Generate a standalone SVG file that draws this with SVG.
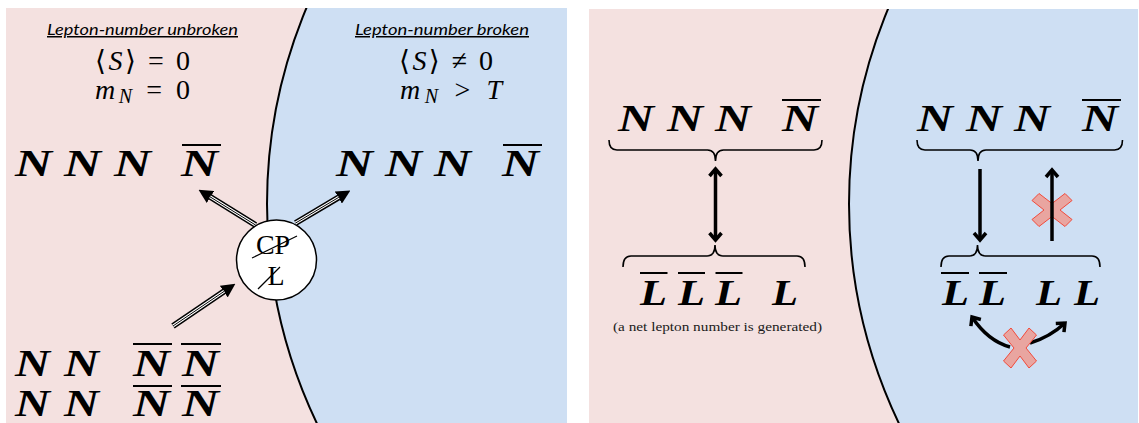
<svg xmlns="http://www.w3.org/2000/svg" width="1139" height="423" viewBox="0 0 1139 423">
<style>
.pink{fill:#F4E1E0}
.blue{fill:#CEDFF3;stroke:#000;stroke-width:2}
.hdr{font-family:Lato,"Open Sans",sans-serif;font-style:italic;font-size:15px;text-decoration:underline;fill:#000}
.math{font-family:"Liberation Serif","DejaVu Serif",serif;font-size:28px;fill:#000}
.it{font-style:italic}
.bN{font-family:"Liberation Serif",serif;font-weight:bold;font-style:italic;font-size:38px;fill:#000}
.bL{font-family:"Liberation Serif",serif;font-weight:bold;font-style:italic;font-size:35px;fill:#000}
.bar{stroke:#000;stroke-width:2}
.brace{fill:none;stroke:#000;stroke-width:1.6}
.rm{font-family:"Liberation Serif",serif;font-size:28px;fill:#000}
.note{font-family:"Liberation Serif",serif;font-size:13.5px;fill:#1a1a1a}
.thin{fill:none;stroke:#000;stroke-width:3.5}
.cross{fill:#E9A5A0;stroke:#F24A3A;stroke-width:1}
</style>
<defs>
<clipPath id="cpL"><rect x="6" y="8" width="561" height="415"/></clipPath>
<clipPath id="cpR"><rect x="589" y="9" width="549" height="414"/></clipPath>
<marker id="tri" markerUnits="userSpaceOnUse" viewBox="0 0 14 14" markerWidth="14" markerHeight="14" refX="0.5" refY="7" orient="auto">
<path d="M0,0 L14,7 L0,14 z" fill="#000"/>
</marker>
<marker id="vee" markerUnits="userSpaceOnUse" viewBox="0 0 20 20" markerWidth="20" markerHeight="20" refX="10" refY="10" orient="auto-start-reverse">
<path d="M3,4 L10,10 L3,16" fill="none" stroke="#000" stroke-width="3.5"/>
</marker>
</defs>

<g id="panel-left">
<rect class="pink" x="6" y="8" width="561" height="415"/>
<circle class="blue" cx="774" cy="204" r="507" clip-path="url(#cpL)"/>
</g>
<g id="panel-right">
<rect class="pink" x="589" y="9" width="549" height="414"/>
<circle class="blue" cx="1356" cy="204" r="507" clip-path="url(#cpR)"/>
</g>

<g id="label-unbroken">
<text class="hdr" x="142.5" y="35" text-anchor="middle" textLength="191" lengthAdjust="spacingAndGlyphs">Lepton-number unbroken</text>
<text class="math" x="95" y="70" textLength="95">⟨<tspan class="it">S</tspan>⟩ = 0</text>
<text class="math" x="95" y="99" textLength="95"><tspan class="it">m</tspan><tspan class="it" font-size="20" dy="4">N</tspan><tspan dy="-4"> = 0</tspan></text>
</g>
<g id="label-broken">
<text class="hdr" x="442" y="35" text-anchor="middle" textLength="174" lengthAdjust="spacingAndGlyphs">Lepton-number broken</text>
<text class="math" x="399" y="70" textLength="94">⟨<tspan class="it">S</tspan>⟩ ≠ 0</text>
<text class="math" x="400" y="99" textLength="102"><tspan class="it">m</tspan><tspan class="it" font-size="20" dy="4">N</tspan><tspan dy="-4"> &gt; </tspan><tspan class="it">T</tspan></text>
</g>

<g id="left-N-row">
<text class="bN" x="15" y="176" textLength="37" lengthAdjust="spacingAndGlyphs">N</text>
<text class="bN" x="64" y="176" textLength="37" lengthAdjust="spacingAndGlyphs">N</text>
<text class="bN" x="114" y="176" textLength="37" lengthAdjust="spacingAndGlyphs">N</text>
<text class="bN" x="181" y="176" textLength="37" lengthAdjust="spacingAndGlyphs">N</text>
<line class="bar" x1="182" y1="145" x2="221" y2="145"/>
</g>
<g id="right-N-row">
<text class="bN" x="336" y="176" textLength="37" lengthAdjust="spacingAndGlyphs">N</text>
<text class="bN" x="385" y="176" textLength="37" lengthAdjust="spacingAndGlyphs">N</text>
<text class="bN" x="434" y="176" textLength="37" lengthAdjust="spacingAndGlyphs">N</text>
<text class="bN" x="502" y="176" textLength="37" lengthAdjust="spacingAndGlyphs">N</text>
<line class="bar" x1="503" y1="145" x2="542" y2="145"/>
</g>
<g id="bottom-N-block">
<text class="bN" x="15" y="376" textLength="35" lengthAdjust="spacingAndGlyphs">N</text>
<text class="bN" x="64" y="376" textLength="35" lengthAdjust="spacingAndGlyphs">N</text>
<text class="bN" x="133" y="376" textLength="37" lengthAdjust="spacingAndGlyphs">N</text>
<text class="bN" x="182" y="376" textLength="37" lengthAdjust="spacingAndGlyphs">N</text>
<line class="bar" x1="133" y1="344" x2="172" y2="344"/>
<line class="bar" x1="181" y1="344" x2="221" y2="344"/>
<text class="bN" x="15" y="416" textLength="35" lengthAdjust="spacingAndGlyphs">N</text>
<text class="bN" x="64" y="416" textLength="35" lengthAdjust="spacingAndGlyphs">N</text>
<text class="bN" x="133" y="416" textLength="37" lengthAdjust="spacingAndGlyphs">N</text>
<text class="bN" x="182" y="416" textLength="37" lengthAdjust="spacingAndGlyphs">N</text>
<line class="bar" x1="133" y1="386" x2="172" y2="386"/>
<line class="bar" x1="181" y1="386" x2="221" y2="386"/>
</g>

<g id="connectors-left">
<line x1="255.5" y1="225" x2="210" y2="196.8" stroke="#000" stroke-width="6" marker-end="url(#tri)"/>
<line x1="255.5" y1="225" x2="210" y2="196.8" stroke="#fff" stroke-width="3"/>
<line x1="255.5" y1="225" x2="210" y2="196.8" stroke="#000" stroke-width="1"/>
<line x1="295.6" y1="223" x2="338.8" y2="197.3" stroke="#000" stroke-width="6" marker-end="url(#tri)"/>
<line x1="295.6" y1="223" x2="338.8" y2="197.3" stroke="#fff" stroke-width="3"/>
<line x1="295.6" y1="223" x2="338.8" y2="197.3" stroke="#000" stroke-width="1"/>
<line x1="173" y1="326" x2="224.2" y2="291.3" stroke="#000" stroke-width="6" marker-end="url(#tri)"/>
<line x1="173" y1="326" x2="224.2" y2="291.3" stroke="#fff" stroke-width="3"/>
<line x1="173" y1="326" x2="224.2" y2="291.3" stroke="#000" stroke-width="1"/>
</g>

<g id="cp-vertex">
<circle cx="276.5" cy="260" r="40" fill="#fff" stroke="#000" stroke-width="1.5"/>
<text class="rm" x="273" y="254" text-anchor="middle">CP</text>
<line x1="252" y1="258" x2="297" y2="236" stroke="#000" stroke-width="1.2"/>
<text class="rm" x="276" y="285" text-anchor="middle">L</text>
<line x1="258" y1="289" x2="280" y2="267" stroke="#000" stroke-width="1.2"/>
</g>

<g id="r-upper-left">
<text class="bN" x="618" y="131" textLength="36" lengthAdjust="spacingAndGlyphs">N</text>
<text class="bN" x="667" y="131" textLength="36" lengthAdjust="spacingAndGlyphs">N</text>
<text class="bN" x="715" y="131" textLength="36" lengthAdjust="spacingAndGlyphs">N</text>
<text class="bN" x="782" y="131" textLength="36" lengthAdjust="spacingAndGlyphs">N</text>
<line class="bar" x1="782" y1="100" x2="821" y2="100"/>
<path class="brace" d="M609,140 Q609,150 617,150 L707.5,150 Q715.5,150 715.5,161 Q715.5,150 723.5,150 L814,150 Q822,150 822,140"/>
</g>
<g id="r-upper-right">
<text class="bN" x="917" y="131" textLength="36" lengthAdjust="spacingAndGlyphs">N</text>
<text class="bN" x="966" y="131" textLength="36" lengthAdjust="spacingAndGlyphs">N</text>
<text class="bN" x="1014" y="131" textLength="36" lengthAdjust="spacingAndGlyphs">N</text>
<text class="bN" x="1082" y="131" textLength="36" lengthAdjust="spacingAndGlyphs">N</text>
<line class="bar" x1="1082" y1="100" x2="1121" y2="100"/>
<path class="brace" d="M917,140 Q917,150 925,150 L970,150 Q978,150 978,161 Q978,150 986,150 L1114.5,150 Q1122.5,150 1122.5,140"/>
</g>
<g id="r-lower-left">
<path class="brace" d="M623,267 Q623,256 631,256 L707,256 Q715,256 715,245 Q715,256 723,256 L797,256 Q805,256 805,267"/>
<text class="bL" x="640" y="305" textLength="27" lengthAdjust="spacingAndGlyphs">L</text>
<text class="bL" x="678" y="305" textLength="27" lengthAdjust="spacingAndGlyphs">L</text>
<text class="bL" x="715" y="305" textLength="27" lengthAdjust="spacingAndGlyphs">L</text>
<text class="bL" x="772" y="305" textLength="26" lengthAdjust="spacingAndGlyphs">L</text>
<line class="bar" x1="640" y1="273" x2="667.5" y2="273"/>
<line class="bar" x1="678" y1="273" x2="705" y2="273"/>
<line class="bar" x1="715.5" y1="273" x2="742.5" y2="273"/>
<text class="note" x="613" y="331" textLength="209" lengthAdjust="spacingAndGlyphs">(a net lepton number is generated)</text>
</g>
<g id="r-lower-right">
<path class="brace" d="M941,267 Q941,256 949,256 L969.5,256 Q977.5,256 977.5,245 Q977.5,256 985.5,256 L1092,256 Q1100,256 1100,267"/>
<text class="bL" x="942" y="305" textLength="27" lengthAdjust="spacingAndGlyphs">L</text>
<text class="bL" x="979" y="305" textLength="27" lengthAdjust="spacingAndGlyphs">L</text>
<text class="bL" x="1036" y="305" textLength="26" lengthAdjust="spacingAndGlyphs">L</text>
<text class="bL" x="1074" y="305" textLength="26" lengthAdjust="spacingAndGlyphs">L</text>
<line class="bar" x1="941" y1="273" x2="969" y2="273"/>
<line class="bar" x1="979" y1="273" x2="1007" y2="273"/>
</g>

<g id="cross-upper">
<polygon class="cross" transform="translate(1052,210)" points="-20,-9.5 -13,-16.5 0,-6.5 13,-16.5 20,-9.5 8,0 20,9.5 13,16.5 0,6.5 -13,16.5 -20,9.5 -8,0"/>
</g>

<g id="connectors-right">
<line class="thin" x1="715.5" y1="169" x2="715.5" y2="240" marker-start="url(#vee)" marker-end="url(#vee)"/>
<line class="thin" x1="980" y1="169" x2="980" y2="240" marker-end="url(#vee)"/>
<line class="thin" x1="1052" y1="241" x2="1052" y2="170" marker-end="url(#vee)"/>
<path class="thin" d="M1010,347 Q988,341 972,317" marker-end="url(#vee)"/>
<path class="thin" d="M1030,343 Q1050,337 1065,323" marker-end="url(#vee)"/>
</g>

<g id="cross-lower">
<polygon class="cross" transform="translate(1020,348)" points="-16.5,-13 -9,-20 0,-8 9,-20 16.5,-13 6,0 16.5,13 9,20 0,8 -9,20 -16.5,13 -6,0"/>
</g>
</svg>
